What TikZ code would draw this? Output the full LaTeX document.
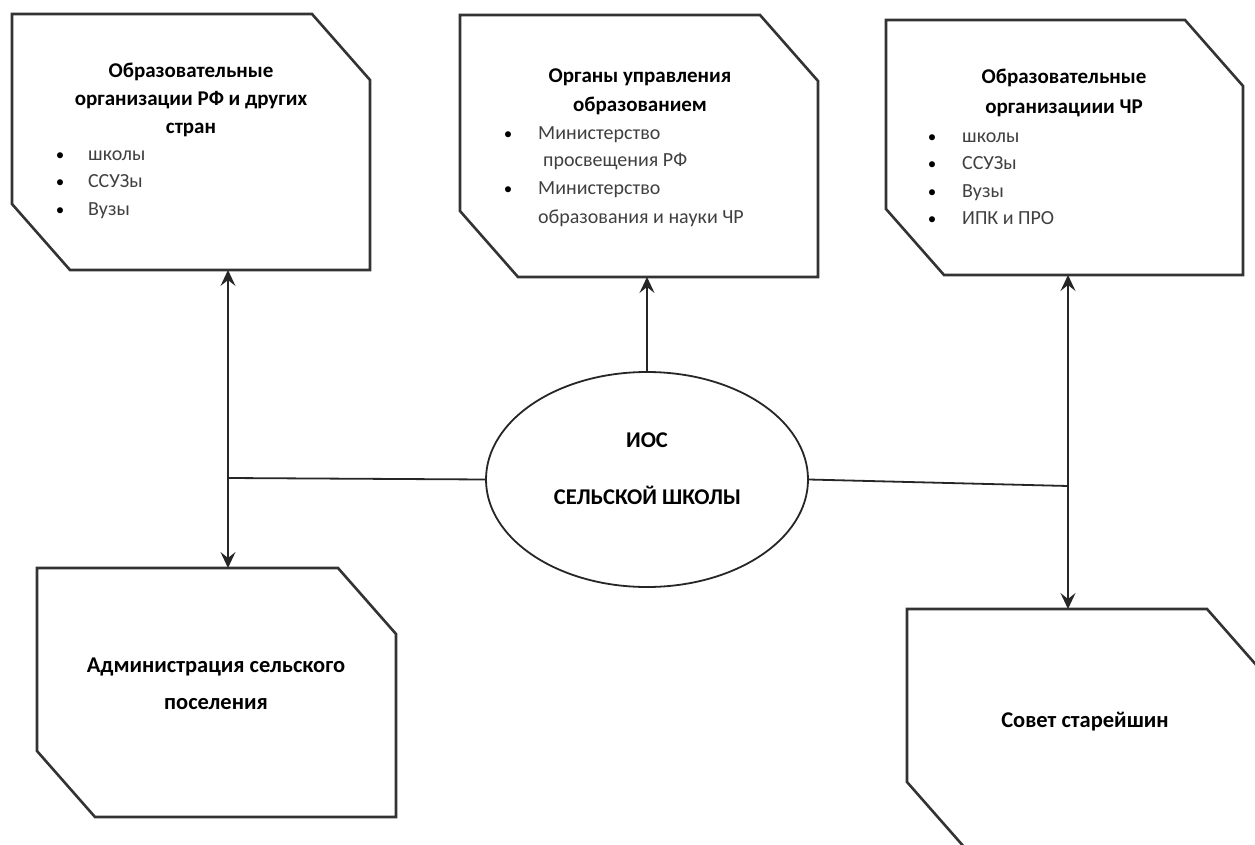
\documentclass[tikz,border=0pt]{standalone}
\usepackage{fontspec}
\setmainfont{Carlito}
\usetikzlibrary{shapes.geometric,arrows.meta}
\newcommand\octbox[1]{%
  \draw[boxline] (#1.north west) -- ([xshift=-58pt]#1.north east) -- ([yshift=-66pt]#1.north east)
    -- (#1.south east) -- ([xshift=58pt]#1.south west) -- ([yshift=66pt]#1.south west) -- cycle;}
\tikzset{
  boxline/.style={draw=black!80, line width=2.6pt, line join=miter},
  frame/.style={draw=none, rectangle, inner sep=0pt, outer sep=0pt},
  conn/.style={draw=black!85, line width=1.8pt},
  tipa/.style={-{Stealth[length=16pt,width=15pt,inset=6pt]}},
  tipb/.style={{Stealth[length=16pt,width=15pt,inset=6pt]}-{Stealth[length=16pt,width=15pt,inset=6pt]}},
  head/.style={font=\bfseries\fontsize{21}{24}\selectfont, anchor=base, inner sep=0pt},
  bighead/.style={font=\bfseries\fontsize{22.5}{26}\selectfont, anchor=base, inner sep=0pt},
  item/.style={font=\fontsize{20}{24}\selectfont, anchor=base west, inner sep=0pt, text=black!75},
  bul/.style={font=\fontsize{17}{24}\selectfont, anchor=base, inner sep=0pt},
}
\begin{document}
\begin{tikzpicture}[x=1pt,y=-1pt]
\useasboundingbox (0,0) rectangle (1255,845);
\fill[white] (0,0) rectangle (1255,845);
\clip (0,0) rectangle (1255,845);

% frames
\node[frame, minimum width=358pt, minimum height=256pt] (b1) at (191,142) {};
\node[frame, minimum width=358pt, minimum height=262pt] (b2) at (639,146) {};
\node[frame, minimum width=357pt, minimum height=255pt] (b3) at (1064.5,147.5) {};
\node[frame, minimum width=359pt, minimum height=249pt] (b4) at (216.5,692.5) {};
\node[frame, minimum width=358pt, minimum height=239pt] (b5) at (1086,728.5) {};
\octbox{b1}
\octbox{b2}
\octbox{b3}
\octbox{b4}
\octbox{b5}

% box 1 text
\node[head] (t1a) at (191,78) {Образовательные};
\node[head] (t1b) at (191,106) {организации РФ и других};
\node[head] (t1c) at (191,134) {стран};
\node[bul] (u1a) at (60,161) {•};
\node[item] (i1a) at (88,161) {школы};
\node[bul] (u1b) at (60,188) {•};
\node[item] (i1b) at (88,188) {ССУЗы};
\node[bul] (u1c) at (60,215) {•};
\node[item] (i1c) at (88,215) {Вузы};

% box 2 text
\node[head] (t2a) at (640,83) {Органы управления};
\node[head] (t2b) at (640,112) {образованием};
\node[bul] (u2a) at (508,140) {•};
\node[item] (i2a) at (538,140) {Министерство};
\node[item] (i2b) at (543,167) {просвещения РФ};
\node[bul] (u2b) at (508,195) {•};
\node[item] (i2c) at (538,195) {Министерство};
\node[item] (i2d) at (538,223) {образования и науки ЧР};

% box 3 text
\node[head] (t3a) at (1064,84) {Образовательные};
\node[head] (t3b) at (1064,114) {организациии ЧР};
\node[bul] (u3a) at (932,143) {•};
\node[item] (i3a) at (962,143) {школы};
\node[bul] (u3b) at (932,170) {•};
\node[item] (i3b) at (962,170) {ССУЗы};
\node[bul] (u3c) at (932,197) {•};
\node[item] (i3c) at (962,197) {Вузы};
\node[bul] (u3d) at (932,224) {•};
\node[item] (i3d) at (962,224) {ИПК и ПРО};

% box 4 and 5 text
\node[bighead] (t4a) at (216,672) {Администрация сельского};
\node[bighead] (t4b) at (216,709) {поселения};
\node[bighead] (t5a) at (1085,727) {Совет старейшин};

% ellipse
\node[draw=black!85, line width=1.8pt, ellipse, minimum width=322pt, minimum height=215pt, inner sep=0pt] (ios) at (647,479.5) {};
\node[bighead] (e1) at (647,447) {ИОС};
\node[bighead] (e2) at (647.5,504) {СЕЛЬСКОЙ ШКОЛЫ};

% connectors
\coordinate (jL) at (228,478);
\coordinate (jR) at (1068,486);
\draw[conn] (jL) -- (ios.west);
\draw[conn,tipb] (jL |- b1.south) -- (jL |- b4.north);
\draw[conn,tipa] (ios.north) -- (ios.north |- b2.south);
\draw[conn] (ios.east) -- (jR);
\draw[conn,tipb] (jR |- b3.south) -- (jR |- b5.north);
\end{tikzpicture}
\end{document}
